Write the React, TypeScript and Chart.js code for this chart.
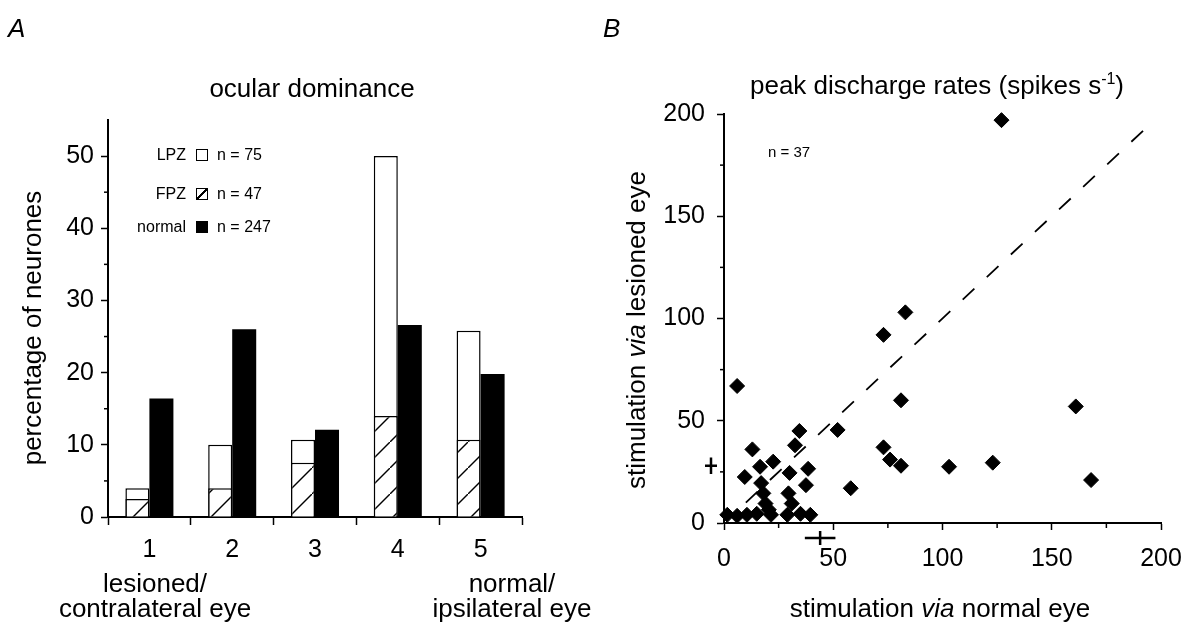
import React, { useEffect, useRef } from "react";
import { Chart, registerables } from "chart.js";

Chart.register(...registerables);

const FONT = '"Liberation Sans", Arial, Helvetica, sans-serif';

// ---------- Panel A: ocular dominance ----------
const categories = ["1", "2", "3", "4", "5"];
const lpzPercent = [4.0, 10.0, 10.7, 50.0, 25.8];
const fpzPercent = [2.5, 4.0, 7.5, 14.0, 10.7];
const normalPercent = [16.4, 26.0, 12.1, 26.6, 19.8];
const percentTicks = [0, 10, 20, 30, 40, 50];
const percentMinorTicks = [5, 15, 25, 35, 45];
const percentMax = 55;
const legendNames = ["LPZ", "FPZ", "normal"];
const legendCounts = ["n = 75", "n = 47", "n = 247"];

// ---------- Panel B: peak discharge rates ----------
const normalEyeRate = [
  6, 83, 73, 81, 161, 127, 52, 34.5, 32.5, 13, 73, 76, 81, 103, 123, 168, 58, 38.5, 37.5,
  22.5, 16.5, 9.5, 30, 17, 18, 19, 29.5, 31, 20.5, 1.5, 6, 10.5, 15, 21.5, 29, 35, 39.5,
];
const lesionedEyeRate = [
  67, 103, 92, 60, 57, 197, 45.5, 45, 38, 36, 37, 31, 28, 27.5, 29.5, 21, 17, 26.5, 18.5,
  30, 27.5, 22.5, 24.5, 19.5, 14.5, 9.5, 14.5, 9.5, 6.5, 4, 3.5, 4, 4.5, 4, 4, 4.5, 4,
];
const rateTicks = [0, 50, 100, 150, 200];
const rateMinorTicks = [25, 75, 125, 175];
const unityRange = [10, 196];
const normalEyeMeanSem = [44, 7];
const lesionedEyeMeanSem = [28, 4];

const minorTicksPlugin = {
  id: "minorTicks",
  afterDraw(chart: any, _args: any, opts: any) {
    const { ctx } = chart;
    ctx.save();
    ctx.strokeStyle = "#000";
    ctx.lineWidth = 1.5;
    (opts.x || []).forEach((v: number) => {
      const s = chart.scales.x;
      const px = s.getPixelForValue(v);
      ctx.beginPath();
      ctx.moveTo(px, s.top);
      ctx.lineTo(px, s.top + opts.xLen);
      ctx.stroke();
    });
    (opts.y || []).forEach((v: number) => {
      const s = chart.scales.y;
      const py = s.getPixelForValue(v);
      ctx.beginPath();
      ctx.moveTo(s.right, py);
      ctx.lineTo(s.right - opts.yLen, py);
      ctx.stroke();
    });
    ctx.restore();
  },
};

const meanMarkerPlugin = {
  id: "meanMarkers",
  afterDraw(chart: any) {
    const { ctx } = chart;
    const xs = chart.scales.x;
    const ys = chart.scales.y;
    ctx.save();
    ctx.strokeStyle = "#000";
    ctx.lineWidth = 2.5;
    // mean +/- sem along x, below the x axis
    const yRow = xs.top + 15;
    const xm = xs.getPixelForValue(normalEyeMeanSem[0]);
    ctx.beginPath();
    ctx.moveTo(xs.getPixelForValue(normalEyeMeanSem[0] - normalEyeMeanSem[1]), yRow);
    ctx.lineTo(xs.getPixelForValue(normalEyeMeanSem[0] + normalEyeMeanSem[1]), yRow);
    ctx.moveTo(xm, yRow - 7);
    ctx.lineTo(xm, yRow + 7);
    ctx.stroke();
    // mean +/- sem along y, left of the y axis
    const xCol = ys.right - 13;
    const ym = ys.getPixelForValue(lesionedEyeMeanSem[0]);
    ctx.beginPath();
    ctx.moveTo(xCol, ys.getPixelForValue(lesionedEyeMeanSem[0] - lesionedEyeMeanSem[1]));
    ctx.lineTo(xCol, ys.getPixelForValue(lesionedEyeMeanSem[0] + lesionedEyeMeanSem[1]));
    ctx.moveTo(xCol - 6, ym);
    ctx.lineTo(xCol + 6, ym);
    ctx.stroke();
    ctx.restore();
  },
};

function makeHatch(): any {
  const size = 26;
  const c = document.createElement("canvas");
  c.width = size;
  c.height = size;
  const g = c.getContext("2d")!;
  g.fillStyle = "#fff";
  g.fillRect(0, 0, size, size);
  g.strokeStyle = "#000";
  g.lineWidth = 1.4;
  g.beginPath();
  g.moveTo(-2, size + 2);
  g.lineTo(size + 2, -2);
  g.stroke();
  return g.createPattern(c, "repeat");
}

function Label(props: any) {
  const { x, baseline, size, anchor, italic, children } = props;
  const top = baseline - 0.8465 * size;
  const transform =
    anchor === "middle" ? "translateX(-50%)" : anchor === "end" ? "translateX(-100%)" : undefined;
  return (
    <div
      style={{
        position: "absolute",
        left: x,
        top,
        fontSize: size,
        lineHeight: `${size}px`,
        fontFamily: FONT,
        fontStyle: italic ? "italic" : "normal",
        whiteSpace: "nowrap",
        transform,
        color: "#000",
      }}
    >
      {children}
    </div>
  );
}

function VLabel(props: any) {
  const { cx, cy, size, children } = props;
  return (
    <div
      style={{
        position: "absolute",
        left: cx,
        top: cy,
        transform: "translate(-50%, -50%) rotate(-90deg)",
        fontSize: size,
        lineHeight: `${size}px`,
        fontFamily: FONT,
        whiteSpace: "nowrap",
        color: "#000",
      }}
    >
      {children}
    </div>
  );
}

export default function App() {
  const refA = useRef<HTMLCanvasElement>(null);
  const refB = useRef<HTMLCanvasElement>(null);

  useEffect(() => {
    Chart.defaults.font.family = FONT;
    Chart.defaults.color = "#000";
    const hatch = makeHatch();
    const tickFont = { family: FONT, size: 25 };

    const chartA = new Chart(refA.current!, {
      type: "bar",
      data: {
        labels: categories,
        datasets: [
          {
            label: "FPZ",
            data: fpzPercent,
            backgroundColor: hatch,
            borderColor: "#000",
            borderWidth: 1.5,
            stack: "lesioned",
            order: 0,
          },
          {
            label: "LPZ",
            data: lpzPercent,
            backgroundColor: "#fff",
            borderColor: "#000",
            borderWidth: 1.5,
            stack: "lesioned",
            order: 1,
          },
          {
            label: "normal",
            data: normalPercent,
            backgroundColor: "#000",
            borderColor: "#000",
            borderWidth: 0,
            stack: "normal",
            order: 2,
          },
        ],
      },
      options: {
        responsive: false,
        animation: false,
        categoryPercentage: 0.58,
        barPercentage: 1.0,
        layout: { padding: { left: 0, right: 68, top: 120, bottom: 0 } },
        plugins: {
          legend: { display: false },
          tooltip: { enabled: false },
          minorTicks: { y: percentMinorTicks, yLen: 4 },
        } as any,
        scales: {
          x: {
            grid: {
              offset: true,
              drawOnChartArea: false,
              drawTicks: true,
              tickLength: 8,
              tickColor: "#000",
              tickWidth: 1.5,
            },
            border: { display: true, color: "#000", width: 2 },
            ticks: { font: tickFont, color: "#000", padding: 10 },
            afterFit: (s: any) => {
              s.height = 106;
              s.paddingLeft = 0;
              s.paddingRight = 0;
            },
          },
          y: {
            stacked: false,
            min: 0,
            max: percentMax,
            afterBuildTicks: (s: any) => {
              s.ticks = percentTicks.map((v) => ({ value: v }));
            },
            grid: {
              drawOnChartArea: false,
              drawTicks: true,
              tickLength: 7,
              tickColor: "#000",
              tickWidth: 1.5,
            },
            border: { display: true, color: "#000", width: 2 },
            ticks: { font: tickFont, color: "#000", padding: 7 },
            afterFit: (s: any) => {
              s.width = 108;
              s.paddingTop = 0;
              s.paddingBottom = 0;
            },
          },
        },
      } as any,
      plugins: [minorTicksPlugin],
    });

    const chartB = new Chart(refB.current!, {
      type: "scatter",
      data: {
        datasets: [
          {
            label: "neurones",
            data: normalEyeRate.map((x, i) => ({ x, y: lesionedEyeRate[i] })),
            pointStyle: "rectRot",
            pointRadius: 7.5,
            backgroundColor: "#000",
            borderColor: "#000",
            borderWidth: 1,
            clip: false,
            order: 0,
          } as any,
          {
            type: "line",
            label: "unity",
            data: unityRange.map((v) => ({ x: v, y: v })),
            borderColor: "#000",
            borderWidth: 1.8,
            borderDash: [16, 17],
            pointRadius: 0,
            fill: false,
            order: 1,
          } as any,
        ],
      },
      options: {
        responsive: false,
        animation: false,
        layout: { padding: { left: 0, right: 22, top: 114, bottom: 0 } },
        plugins: {
          legend: { display: false },
          tooltip: { enabled: false },
          minorTicks: { x: rateMinorTicks, xLen: 5, y: rateMinorTicks, yLen: 4 },
        } as any,
        scales: {
          x: {
            type: "linear",
            min: 0,
            max: 200,
            afterBuildTicks: (s: any) => {
              s.ticks = rateTicks.map((v) => ({ value: v }));
            },
            grid: {
              drawOnChartArea: false,
              drawTicks: true,
              tickLength: 7,
              tickColor: "#000",
              tickWidth: 1.5,
            },
            border: { display: true, color: "#000", width: 2 },
            ticks: { font: tickFont, color: "#000", padding: 14 },
            afterFit: (s: any) => {
              s.height = 100;
              s.paddingLeft = 0;
              s.paddingRight = 0;
            },
          },
          y: {
            type: "linear",
            min: 0,
            max: 200,
            afterBuildTicks: (s: any) => {
              s.ticks = rateTicks.map((v) => ({ value: v }));
            },
            grid: {
              drawOnChartArea: false,
              drawTicks: true,
              tickLength: 7,
              tickColor: "#000",
              tickWidth: 1.5,
            },
            border: { display: true, color: "#000", width: 2 },
            ticks: { font: tickFont, color: "#000", padding: 12 },
            afterFit: (s: any) => {
              s.width = 134;
              s.paddingTop = 0;
              s.paddingBottom = 0;
            },
          },
        },
      } as any,
      plugins: [minorTicksPlugin, meanMarkerPlugin],
    });

    return () => {
      chartA.destroy();
      chartB.destroy();
    };
  }, []);

  const legendBaselines = [161, 200, 233];
  const swatchStyle = (i: number): any => {
    const base: any = {
      position: "absolute",
      left: 196,
      top: legendBaselines[i] - 12,
      width: 12,
      height: 12,
      boxSizing: "border-box",
      border: "1.5px solid #000",
    };
    if (i === 0) base.background = "#fff";
    if (i === 1)
      base.background =
        "linear-gradient(to bottom right, #fff calc(50% - 1px), #000 calc(50% - 1px), #000 calc(50% + 1px), #fff calc(50% + 1px))";
    if (i === 2) base.background = "#000";
    return base;
  };

  return (
    <div
      style={{
        position: "absolute",
        left: 0,
        top: 0,
        width: 1183,
        height: 623,
        background: "#fff",
        overflow: "hidden",
        fontFamily: FONT,
      }}
    >
      <canvas ref={refA} width={590} height={623} style={{ position: "absolute", left: 0, top: 0 }} />
      <canvas ref={refB} width={593} height={623} style={{ position: "absolute", left: 590, top: 0 }} />

      {/* Panel A texts */}
      <Label x={8} baseline={37} size={26} italic>
        A
      </Label>
      <Label x={312} baseline={97} size={26} anchor="middle">
        ocular dominance
      </Label>
      <VLabel cx={32} cy={328} size={26}>
        percentage of neurones
      </VLabel>
      {legendNames.map((name, i) => (
        <React.Fragment key={name}>
          <Label x={186} baseline={legendBaselines[i]} size={16} anchor="end">
            {name}
          </Label>
          <div style={swatchStyle(i)} />
          <Label x={217} baseline={legendBaselines[i]} size={16}>
            {legendCounts[i]}
          </Label>
        </React.Fragment>
      ))}
      <Label x={155} baseline={592} size={26} anchor="middle">
        lesioned/
      </Label>
      <Label x={155} baseline={617} size={26} anchor="middle">
        contralateral eye
      </Label>
      <Label x={512} baseline={592} size={26} anchor="middle">
        normal/
      </Label>
      <Label x={512} baseline={617} size={26} anchor="middle">
        ipsilateral eye
      </Label>

      {/* Panel B texts */}
      <Label x={603} baseline={37} size={26} italic>
        B
      </Label>
      <Label x={937} baseline={94} size={26} anchor="middle">
        peak discharge rates (spikes s
        <span style={{ fontSize: 16, verticalAlign: "10px", lineHeight: 0 }}>-1</span>)
      </Label>
      <Label x={768} baseline={157} size={15}>
        n = 37
      </Label>
      <VLabel cx={636} cy={330} size={26}>
        stimulation <i>via</i> lesioned eye
      </VLabel>
      <Label x={940} baseline={617} size={26} anchor="middle">
        stimulation <i>via</i> normal eye
      </Label>
    </div>
  );
}
